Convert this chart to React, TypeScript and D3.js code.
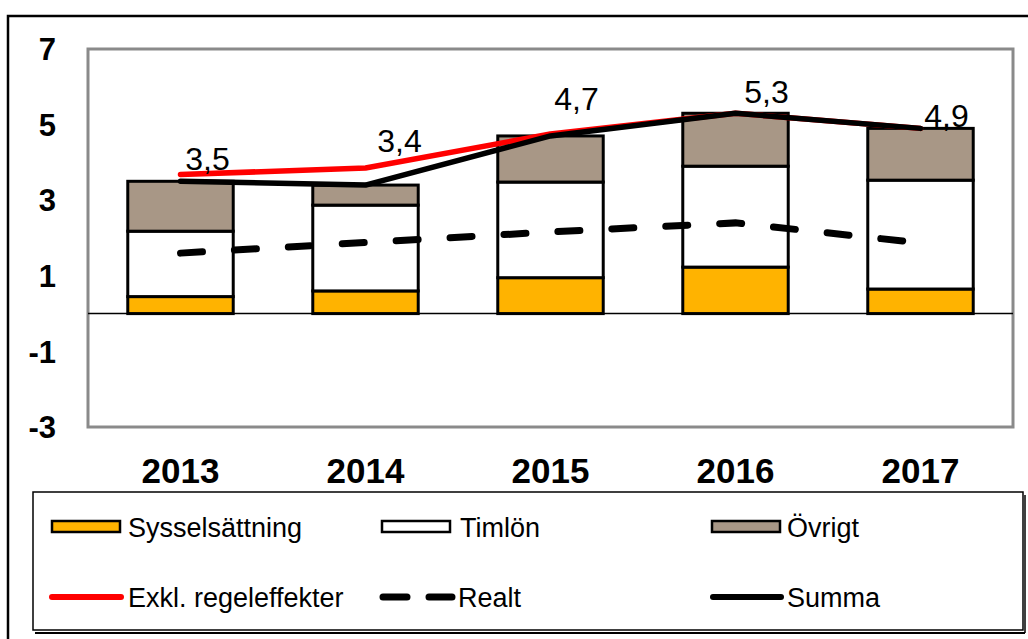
import React from "react";
import * as d3 from "d3";

const years = ["2013", "2014", "2015", "2016", "2017"];
const sysselsattning = [0.45, 0.6, 0.95, 1.23, 0.65];
const timlon = [1.73, 2.27, 2.53, 2.67, 2.88];
const ovrigt = [1.32, 0.53, 1.22, 1.4, 1.37];
const exklRegel = [3.68, 3.85, 4.75, 5.3, 4.9];
const realt = [1.6, 1.88, 2.16, 2.4, 1.87];
const summa = [3.5, 3.4, 4.7, 5.3, 4.9];
const summaLabels = ["3,5", "3,4", "4,7", "5,3", "4,9"];
const labelNudge = [[27, -11], [34, -33], [26, -26], [31, -10], [26, -1]];
const yTicks = [7, 5, 3, 1, -1, -3];

const W = 1028, H = 639;
const plot = { left: 88, top: 49, right: 1013, bottom: 427 };
const FONT = "'Liberation Sans', Arial, sans-serif";

export default function App() {
  const x = d3.scaleBand<string>().domain(years).range([plot.left, plot.right]).paddingInner(0.43).paddingOuter(0.215);
  const y = d3.scaleLinear().domain([-3, 7]).range([plot.bottom, plot.top]);
  const cx = (i: number) => (x(years[i]) as number) + x.bandwidth() / 2;

  const stackKeys = ["s", "t", "o"];
  const rows = years.map((yr, i) => ({ yr, s: sysselsattning[i], t: timlon[i], o: ovrigt[i] }));
  const stacked = d3.stack<any>().keys(stackKeys)(rows);
  const fills: Record<string, string> = { s: "#FFB300", t: "#FFFFFF", o: "#A89786" };

  const line = d3.line<number>().x((_, i) => cx(i)).y((d) => y(d));

  return (
    <svg width={W} height={H} style={{ position: "absolute", left: 0, top: 0, background: "#fff" }} fontFamily={FONT}>
      <rect x={0} y={0} width={W} height={H} fill="#fff" />
      {/* outer frame */}
      <path d={`M8,${H + 5} L8,16 L${W + 5},16`} fill="none" stroke="#000" strokeWidth={2.5} />
      {/* plot area */}
      <rect x={plot.left} y={plot.top} width={plot.right - plot.left} height={plot.bottom - plot.top} fill="#fff" stroke="#8a8a8a" strokeWidth={3} />
      {/* y tick labels */}
      {yTicks.map((t) => (
        <text key={t} x={56} y={y(t)} dy="0.36em" textAnchor="end" fontSize={31} fontWeight="bold" fill="#000">{t}</text>
      ))}
      {/* bars */}
      {stacked.map((layer) => (
        <g key={layer.key}>
          {layer.map((d, i) => (
            <rect key={i} x={x(years[i])} y={y(d[1])} width={x.bandwidth()} height={y(d[0]) - y(d[1])}
              fill={fills[layer.key]} stroke="#000" strokeWidth={3} />
          ))}
        </g>
      ))}
      {/* zero line */}
      <line x1={plot.left} x2={plot.right} y1={y(0)} y2={y(0)} stroke="#000" strokeWidth={1.5} />
      {/* lines */}
      <path d={line(realt) as string} fill="none" stroke="#000" strokeWidth={7} strokeDasharray="22 32" strokeLinecap="round" />
      <path d={line(exklRegel) as string} fill="none" stroke="#FF0000" strokeWidth={5.5} strokeLinecap="round" strokeLinejoin="round" />
      <path d={line(summa) as string} fill="none" stroke="#000" strokeWidth={5.5} strokeLinecap="round" strokeLinejoin="round" />
      {/* data labels */}
      {summa.map((v, i) => (
        <text key={i} x={cx(i) + labelNudge[i][0]} y={y(v) + labelNudge[i][1]} textAnchor="middle" fontSize={32} fill="#000">{summaLabels[i]}</text>
      ))}
      {/* x labels */}
      {years.map((yr, i) => (
        <text key={yr} x={cx(i)} y={483} textAnchor="middle" fontSize={35} fontWeight="bold" fill="#000">{yr}</text>
      ))}
      {/* legend */}
      <line x1={35} x2={1025} y1={633} y2={633} stroke="#000" strokeWidth={2} />
      <line x1={1025} x2={1025} y1={495} y2={633} stroke="#000" strokeWidth={1.5} />
      <rect x={33} y={492} width={990} height={138} fill="#fff" stroke="#000" strokeWidth={1.5} />
      {[
        { sx: 52, tx: 128, label: "Sysselsättning", fill: "#FFB300" },
        { sx: 382, tx: 460, label: "Timlön", fill: "#FFFFFF" },
        { sx: 712, tx: 787, label: "Övrigt", fill: "#A89786" },
      ].map((it) => (
        <g key={it.label}>
          <rect x={it.sx} y={521} width={68} height={11} fill={it.fill} stroke="#000" strokeWidth={2.5} />
          <text x={it.tx} y={527} dy="0.36em" fontSize={27} fill="#000">{it.label}</text>
        </g>
      ))}
      <line x1={52} x2={121} y1={597} y2={597} stroke="#FF0000" strokeWidth={6} strokeLinecap="round" />
      <text x={128} y={597} dy="0.36em" fontSize={27} fill="#000">Exkl. regeleffekter</text>
      <line x1={383} x2={452} y1={597} y2={597} stroke="#000" strokeWidth={7} strokeDasharray="24 22" strokeLinecap="round" />
      <text x={458} y={597} dy="0.36em" fontSize={27} fill="#000">Realt</text>
      <line x1={713} x2={781} y1={597} y2={597} stroke="#000" strokeWidth={6} strokeLinecap="round" />
      <text x={787} y={597} dy="0.36em" fontSize={27} fill="#000">Summa</text>
    </svg>
  );
}
